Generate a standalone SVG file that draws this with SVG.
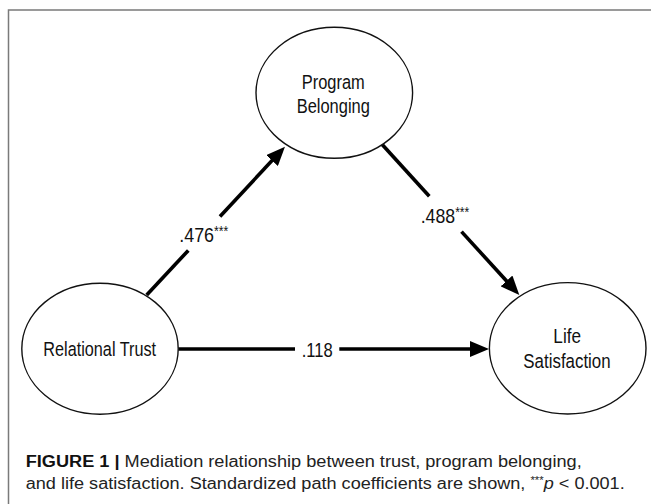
<svg xmlns="http://www.w3.org/2000/svg" width="651" height="504" viewBox="0 0 651 504">
<defs>
<style>
.frame{fill:none;stroke:#7a7a7a;stroke-width:1.5}
.node ellipse{fill:#fff;stroke:#111;stroke-width:1.4}
.node text{font-family:"Liberation Sans",Arial,sans-serif;font-size:20.5px;fill:#111;text-anchor:middle}
.edge{stroke:#000;stroke-width:3.6;fill:none}
.lbl{font-family:"Liberation Sans",Arial,sans-serif;font-size:20.5px;fill:#111}
.cap{font-family:"Liberation Sans",Arial,sans-serif;font-size:16px;fill:#222}
</style>
<marker id="ah" markerUnits="userSpaceOnUse" markerWidth="19" markerHeight="16" refX="12" refY="8" orient="auto">
<path d="M0,0 L19,8 L0,16 z" fill="#000"/>
</marker>
</defs>
<rect width="651" height="504" fill="#fff"/>
<path class="frame" d="M651,10 H8.5 V504"/>

<g id="connectors">
<line class="edge" x1="146.7" y1="295" x2="188.3" y2="250.4"/>
<line class="edge" x1="220" y1="216.4" x2="280.2" y2="151.8" marker-end="url(#ah)"/>
<line class="edge" x1="381.7" y1="144" x2="429.3" y2="196.2"/>
<line class="edge" x1="461.5" y1="231.6" x2="514.6" y2="289.8" marker-end="url(#ah)"/>
<line class="edge" x1="178.2" y1="349" x2="295" y2="349"/>
<line class="edge" x1="339.3" y1="349" x2="482" y2="349" marker-end="url(#ah)"/>
<text class="lbl" x="179.3" y="242" textLength="49" lengthAdjust="spacingAndGlyphs">.476<tspan font-size="14" dy="-6">***</tspan></text>
<text class="lbl" x="420.7" y="222.5" textLength="48.6" lengthAdjust="spacingAndGlyphs">.488<tspan font-size="14" dy="-6">***</tspan></text>
<text class="lbl" x="301.7" y="357" textLength="31" lengthAdjust="spacingAndGlyphs">.118</text>
</g>

<g id="program-belonging" class="node">
<ellipse cx="334.3" cy="92.8" rx="78.3" ry="65.5"/>
<text x="333.3" y="88.5" textLength="63" lengthAdjust="spacingAndGlyphs">Program</text>
<text x="333.3" y="112.5" textLength="73.3" lengthAdjust="spacingAndGlyphs">Belonging</text>
</g>

<g id="relational-trust" class="node">
<ellipse cx="100" cy="348.7" rx="78.2" ry="65.5"/>
<text x="99.7" y="355.5" textLength="112.7" lengthAdjust="spacingAndGlyphs">Relational Trust</text>
</g>

<g id="life-satisfaction" class="node">
<ellipse cx="567.7" cy="348.3" rx="78.3" ry="65.7"/>
<text x="567.2" y="343" textLength="27.7" lengthAdjust="spacingAndGlyphs">Life</text>
<text x="567" y="368" textLength="87.3" lengthAdjust="spacingAndGlyphs">Satisfaction</text>
</g>

<g id="caption">
<text class="cap" x="25.7" y="466.5" textLength="556" lengthAdjust="spacingAndGlyphs"><tspan font-weight="bold" fill="#111">FIGURE 1 |</tspan> Mediation relationship between trust, program belonging,</text>
<text class="cap" x="25.7" y="488.5" textLength="599" lengthAdjust="spacingAndGlyphs">and life satisfaction. Standardized path coefficients are shown, <tspan font-size="10" dy="-5">***</tspan><tspan font-style="italic" dy="5">p</tspan> &lt; 0.001.</text>
</g>
</svg>
